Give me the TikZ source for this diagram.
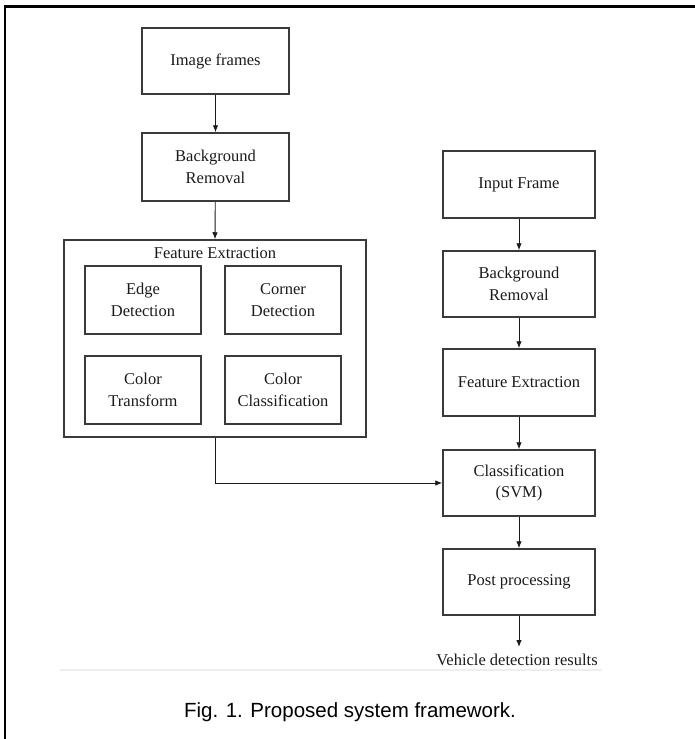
\documentclass[tikz,border=0pt]{standalone}
\usepackage{fontspec}
\setmainfont{Liberation Serif}
\newfontfamily\capfont{Liberation Sans}
\usetikzlibrary{arrows.meta}
\definecolor{boxline}{HTML}{3A3A3A}
\definecolor{txt}{HTML}{1A1A1A}
\definecolor{faint}{HTML}{EEEEEE}
\tikzset{
  blk/.style={draw=boxline, line width=1.5pt, minimum width=#1, inner sep=0pt, align=center,
    text=txt, font=\fontsize{16.5}{21.5}\selectfont},
  blk/.default=147pt,
  lbl/.style={text=txt, font=\fontsize{16.5}{21.5}\selectfont, inner sep=0pt},
  arr/.style={draw=txt, line width=0.9pt, -{Latex[length=7pt,width=5.5pt]}},
}
\begin{document}
\begin{tikzpicture}[x=1pt,y=-1pt]
\useasboundingbox (0,0) rectangle (695,739);
% outer frame (only top and left visible)
\draw[line width=2.5pt, black] (695,6.5) -- (5,6.5) -- (5,739);
% left column
\node[blk=147pt, minimum height=66pt] (img) at (215.5,61) {Image frames};
\node[blk=147pt, minimum height=68pt] (bg1) at (215.5,167) {Background\\Removal};
\node[blk=302pt, minimum height=197pt] (fe) at (215,338.5) {};
\node[lbl] (fetitle) at (215,253) {Feature Extraction};
\node[blk=116pt, minimum height=68pt] (edge) at (143,300) {Edge\\Detection};
\node[blk=116pt, minimum height=68pt] (corner) at (283,300) {Corner\\Detection};
\node[blk=116pt, minimum height=68pt] (ctrans) at (143,390) {Color\\Transform};
\node[blk=116pt, minimum height=68pt] (cclass) at (283,390) {Color\\Classification};
% right column
\node[blk=152pt, minimum height=67pt] (inp) at (519,184.5) {Input Frame};
\node[blk=152pt, minimum height=66pt] (bg2) at (519,284) {Background\\Removal};
\node[blk=152pt, minimum height=67pt] (fe2) at (519,382.5) {Feature Extraction};
\node[blk=152pt, minimum height=66pt] (cls) at (519,483) {Classification\\(SVM)};
\node[blk=152pt, minimum height=66pt] (post) at (519,582) {Post processing};
\coordinate (res) at (519,647);
\node[lbl] (restext) at (517,660) {Vehicle detection results};
% connectors
\draw[arr] (img) -- (bg1);
\draw[arr] (bg1) -- (fe.north);
\draw[arr] (inp) -- (bg2);
\draw[arr] (bg2) -- (fe2);
\draw[arr] (fe2) -- (cls);
\draw[arr] (cls) -- (post);
\draw[arr] (post) -- (res);
\draw[arr] (fe.south) |- (cls.west);
% faint rule and caption
\draw[faint, line width=2pt] (60,670) -- (602,670);
\node[font=\capfont\fontsize{20.5}{24}\selectfont, text=black] (cap) at (350,712) {Fig. 1. Proposed system framework.};
\end{tikzpicture}
\end{document}
